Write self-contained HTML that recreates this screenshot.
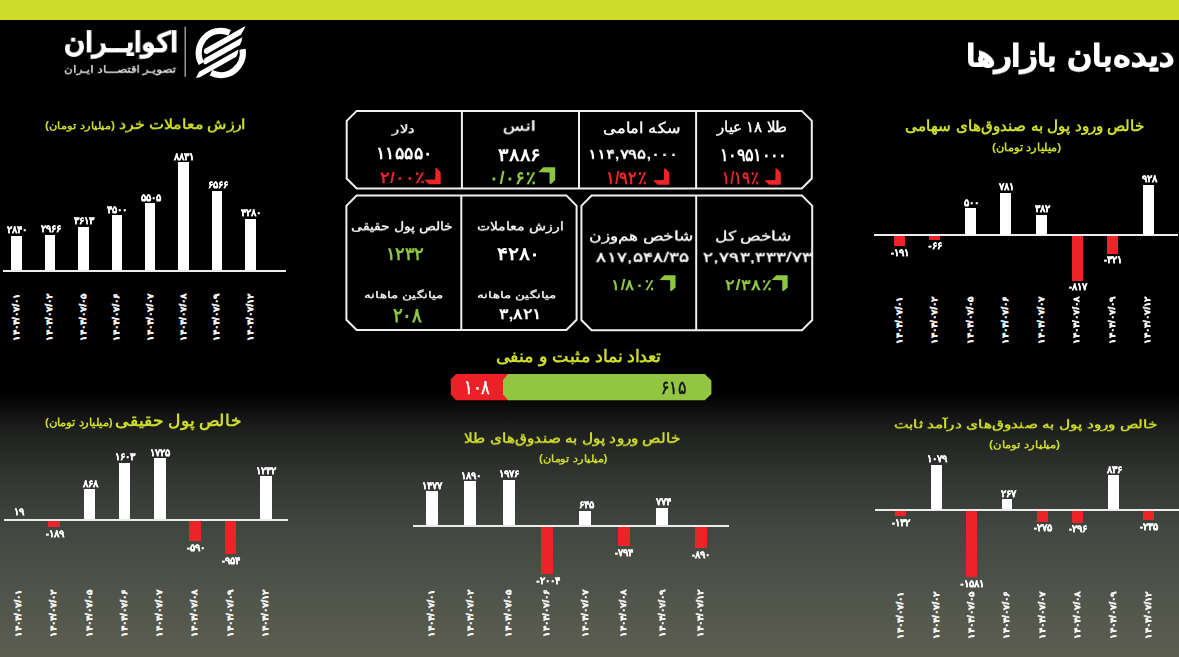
<!DOCTYPE html><html><head><meta charset="utf-8"><style>
html,body{margin:0;padding:0}
body{width:1179px;height:657px;overflow:hidden;position:relative;font-family:'Liberation Sans',sans-serif;background:linear-gradient(to bottom,#000 0,#000 392px,#111 413px,#1e201e 431px,#2a2c2a 457px,#333633 480px,#414540 524px,#4e5148 579px,#5b5e4f 657px)}
.a{position:absolute}
.t{position:absolute;white-space:nowrap;line-height:1;transform-origin:0 0;will-change:transform}
.v{position:absolute;width:40px;text-align:center;white-space:nowrap;line-height:1;font-size:10px;font-weight:bold;color:#fff;direction:ltr;-webkit-text-stroke:0.3px #fff;will-change:transform}
.d{position:absolute;width:70px;height:10px;text-align:center;white-space:nowrap;line-height:10px;font-size:10px;font-weight:bold;color:#f4f4f4;direction:ltr;transform-origin:35px 5px;-webkit-text-stroke:0.55px #f4f4f4}
svg{position:absolute;left:0;top:0;overflow:visible}
</style></head><body>
<div class="a" style="left:0;top:0;width:1179px;height:19.6px;background:#cddc2b"></div>
<div class="a" style="left:3px;top:269.5px;width:283px;height:2px;background:#ececec"></div>
<div class="a" style="left:11.3px;top:236px;width:10.6px;height:33.8px;background:#ffffff"></div>
<div class="v" style="left:-2.8px;top:225.4px">۲۸۴۰</div>
<div class="a" style="left:44.7px;top:234.7px;width:10.6px;height:35.1px;background:#ffffff"></div>
<div class="v" style="left:30.6px;top:224.1px">۲۹۶۶</div>
<div class="a" style="left:78.1px;top:226.6px;width:10.6px;height:43.2px;background:#ffffff"></div>
<div class="v" style="left:64px;top:216px">۳۶۱۳</div>
<div class="a" style="left:111.5px;top:215.3px;width:10.6px;height:54.5px;background:#ffffff"></div>
<div class="v" style="left:97.4px;top:204.7px">۴۵۰۰</div>
<div class="a" style="left:144.9px;top:203.3px;width:10.6px;height:66.5px;background:#ffffff"></div>
<div class="v" style="left:130.8px;top:192.7px">۵۵۰۵</div>
<div class="a" style="left:178.3px;top:162.4px;width:10.6px;height:107.4px;background:#ffffff"></div>
<div class="v" style="left:164.2px;top:151.8px">۸۸۳۱</div>
<div class="a" style="left:211.7px;top:190.5px;width:10.6px;height:79.3px;background:#ffffff"></div>
<div class="v" style="left:197.6px;top:179.9px">۶۵۶۶</div>
<div class="a" style="left:245.1px;top:218.8px;width:10.6px;height:51px;background:#ffffff"></div>
<div class="v" style="left:231px;top:208.2px">۴۲۸۰</div>
<div class="d" style="left:-18.1px;top:312.25px;transform:rotate(-90deg) scale(1.04,0.83)">۱۴۰۴/۰۷/۰۱</div>
<div class="d" style="left:15.3px;top:312.25px;transform:rotate(-90deg) scale(1.04,0.83)">۱۴۰۴/۰۷/۰۲</div>
<div class="d" style="left:48.7px;top:312.25px;transform:rotate(-90deg) scale(1.04,0.83)">۱۴۰۴/۰۷/۰۵</div>
<div class="d" style="left:82.1px;top:312.25px;transform:rotate(-90deg) scale(1.04,0.83)">۱۴۰۴/۰۷/۰۶</div>
<div class="d" style="left:115.5px;top:312.25px;transform:rotate(-90deg) scale(1.04,0.83)">۱۴۰۴/۰۷/۰۷</div>
<div class="d" style="left:148.9px;top:312.25px;transform:rotate(-90deg) scale(1.04,0.83)">۱۴۰۴/۰۷/۰۸</div>
<div class="d" style="left:182.3px;top:312.25px;transform:rotate(-90deg) scale(1.04,0.83)">۱۴۰۴/۰۷/۰۹</div>
<div class="d" style="left:215.7px;top:312.25px;transform:rotate(-90deg) scale(1.04,0.83)">۱۴۰۴/۰۷/۱۲</div>
<div class="a" style="left:874px;top:234.3px;width:304px;height:2px;background:#ececec"></div>
<div class="a" style="left:893.7px;top:236px;width:11px;height:10.1px;background:#ec2327"></div>
<div class="v" style="left:879.8px;top:247.7px">-۱۹۱</div>
<div class="a" style="left:929.26px;top:236px;width:11px;height:3.8px;background:#ec2327"></div>
<div class="v" style="left:915.36px;top:241.4px">-۶۶</div>
<div class="a" style="left:964.82px;top:208.1px;width:11px;height:26.5px;background:#ffffff"></div>
<div class="v" style="left:950.92px;top:197.5px">۵۰۰</div>
<div class="a" style="left:1000.38px;top:192.7px;width:11px;height:41.9px;background:#ffffff"></div>
<div class="v" style="left:986.48px;top:182.1px">۷۸۱</div>
<div class="a" style="left:1035.94px;top:214.8px;width:11px;height:19.8px;background:#ffffff"></div>
<div class="v" style="left:1022.04px;top:204.2px">۳۸۲</div>
<div class="a" style="left:1071.5px;top:236px;width:11px;height:44.7px;background:#ec2327"></div>
<div class="v" style="left:1057.6px;top:282.3px">-۸۱۷</div>
<div class="a" style="left:1107.06px;top:236px;width:11px;height:17.6px;background:#ec2327"></div>
<div class="v" style="left:1093.16px;top:255.2px">-۳۲۱</div>
<div class="a" style="left:1142.62px;top:184.8px;width:11px;height:49.8px;background:#ffffff"></div>
<div class="v" style="left:1128.72px;top:174.2px">۹۲۸</div>
<div class="d" style="left:864.5px;top:315.4px;transform:rotate(-90deg) scale(1.04,0.83)">۱۴۰۴/۰۷/۰۱</div>
<div class="d" style="left:900.06px;top:315.4px;transform:rotate(-90deg) scale(1.04,0.83)">۱۴۰۴/۰۷/۰۲</div>
<div class="d" style="left:935.62px;top:315.4px;transform:rotate(-90deg) scale(1.04,0.83)">۱۴۰۴/۰۷/۰۵</div>
<div class="d" style="left:971.18px;top:315.4px;transform:rotate(-90deg) scale(1.04,0.83)">۱۴۰۴/۰۷/۰۶</div>
<div class="d" style="left:1006.74px;top:315.4px;transform:rotate(-90deg) scale(1.04,0.83)">۱۴۰۴/۰۷/۰۷</div>
<div class="d" style="left:1042.3px;top:315.4px;transform:rotate(-90deg) scale(1.04,0.83)">۱۴۰۴/۰۷/۰۸</div>
<div class="d" style="left:1077.86px;top:315.4px;transform:rotate(-90deg) scale(1.04,0.83)">۱۴۰۴/۰۷/۰۹</div>
<div class="d" style="left:1113.42px;top:315.4px;transform:rotate(-90deg) scale(1.04,0.83)">۱۴۰۴/۰۷/۱۲</div>
<div class="a" style="left:4.4px;top:518.8px;width:283.4px;height:2.2px;background:#ececec"></div>
<div class="v" style="left:-0.75px;top:507px">۱۹</div>
<div class="a" style="left:48.2px;top:520.7px;width:11.5px;height:6.4px;background:#ec2327"></div>
<div class="v" style="left:34.55px;top:528.7px">-۱۸۹</div>
<div class="a" style="left:83.5px;top:489.4px;width:11.5px;height:29.7px;background:#ffffff"></div>
<div class="v" style="left:69.85px;top:478.8px">۸۶۸</div>
<div class="a" style="left:118.8px;top:462.8px;width:11.5px;height:56.3px;background:#ffffff"></div>
<div class="v" style="left:105.15px;top:452.2px">۱۶۰۳</div>
<div class="a" style="left:154.1px;top:458.4px;width:11.5px;height:60.7px;background:#ffffff"></div>
<div class="v" style="left:140.45px;top:447.8px">۱۷۲۵</div>
<div class="a" style="left:189.4px;top:520.7px;width:11.5px;height:20.6px;background:#ec2327"></div>
<div class="v" style="left:175.75px;top:542.9px">-۵۹۰</div>
<div class="a" style="left:224.7px;top:520.7px;width:11.5px;height:33.5px;background:#ec2327"></div>
<div class="v" style="left:211.05px;top:555.8px">-۹۵۴</div>
<div class="a" style="left:260px;top:476.2px;width:11.5px;height:42.9px;background:#ffffff"></div>
<div class="v" style="left:246.35px;top:465.6px">۱۲۳۲</div>
<div class="d" style="left:-16.05px;top:608.15px;transform:rotate(-90deg) scale(1.04,0.83)">۱۴۰۴/۰۷/۰۱</div>
<div class="d" style="left:19.25px;top:608.15px;transform:rotate(-90deg) scale(1.04,0.83)">۱۴۰۴/۰۷/۰۲</div>
<div class="d" style="left:54.55px;top:608.15px;transform:rotate(-90deg) scale(1.04,0.83)">۱۴۰۴/۰۷/۰۵</div>
<div class="d" style="left:89.85px;top:608.15px;transform:rotate(-90deg) scale(1.04,0.83)">۱۴۰۴/۰۷/۰۶</div>
<div class="d" style="left:125.15px;top:608.15px;transform:rotate(-90deg) scale(1.04,0.83)">۱۴۰۴/۰۷/۰۷</div>
<div class="d" style="left:160.45px;top:608.15px;transform:rotate(-90deg) scale(1.04,0.83)">۱۴۰۴/۰۷/۰۸</div>
<div class="d" style="left:195.75px;top:608.15px;transform:rotate(-90deg) scale(1.04,0.83)">۱۴۰۴/۰۷/۰۹</div>
<div class="d" style="left:231.05px;top:608.15px;transform:rotate(-90deg) scale(1.04,0.83)">۱۴۰۴/۰۷/۱۲</div>
<div class="a" style="left:412.8px;top:524.9px;width:316.6px;height:2px;background:#ececec"></div>
<div class="a" style="left:425.7px;top:491.2px;width:12.2px;height:34px;background:#ffffff"></div>
<div class="v" style="left:412.4px;top:480.6px">۱۴۷۷</div>
<div class="a" style="left:464.1px;top:481.3px;width:12.2px;height:43.9px;background:#ffffff"></div>
<div class="v" style="left:450.8px;top:470.7px">۱۸۹۰</div>
<div class="a" style="left:502.5px;top:479.5px;width:12.2px;height:45.7px;background:#ffffff"></div>
<div class="v" style="left:489.2px;top:468.9px">۱۹۷۶</div>
<div class="a" style="left:540.9px;top:526.6px;width:12.2px;height:47.4px;background:#ec2327"></div>
<div class="v" style="left:527.6px;top:575.6px">-۲۰۰۴</div>
<div class="a" style="left:579.3px;top:510.5px;width:12.2px;height:14.7px;background:#ffffff"></div>
<div class="v" style="left:566px;top:499.9px">۶۴۵</div>
<div class="a" style="left:617.7px;top:526.6px;width:12.2px;height:19.4px;background:#ec2327"></div>
<div class="v" style="left:604.4px;top:547.6px">-۷۹۴</div>
<div class="a" style="left:656.1px;top:507.9px;width:12.2px;height:17.3px;background:#ffffff"></div>
<div class="v" style="left:642.8px;top:497.3px">۷۷۴</div>
<div class="a" style="left:694.5px;top:526.6px;width:12.2px;height:21.4px;background:#ec2327"></div>
<div class="v" style="left:681.2px;top:549.6px">-۸۹۰</div>
<div class="d" style="left:397.1px;top:607.75px;transform:rotate(-90deg) scale(1.04,0.83)">۱۴۰۴/۰۷/۰۱</div>
<div class="d" style="left:435.5px;top:607.75px;transform:rotate(-90deg) scale(1.04,0.83)">۱۴۰۴/۰۷/۰۲</div>
<div class="d" style="left:473.9px;top:607.75px;transform:rotate(-90deg) scale(1.04,0.83)">۱۴۰۴/۰۷/۰۵</div>
<div class="d" style="left:512.3px;top:607.75px;transform:rotate(-90deg) scale(1.04,0.83)">۱۴۰۴/۰۷/۰۶</div>
<div class="d" style="left:550.7px;top:607.75px;transform:rotate(-90deg) scale(1.04,0.83)">۱۴۰۴/۰۷/۰۷</div>
<div class="d" style="left:589.1px;top:607.75px;transform:rotate(-90deg) scale(1.04,0.83)">۱۴۰۴/۰۷/۰۸</div>
<div class="d" style="left:627.5px;top:607.75px;transform:rotate(-90deg) scale(1.04,0.83)">۱۴۰۴/۰۷/۰۹</div>
<div class="d" style="left:665.9px;top:607.75px;transform:rotate(-90deg) scale(1.04,0.83)">۱۴۰۴/۰۷/۱۲</div>
<div class="a" style="left:875px;top:509.2px;width:303.5px;height:2.2px;background:#ececec"></div>
<div class="a" style="left:895.4px;top:511.1px;width:10.8px;height:5.2px;background:#ec2327"></div>
<div class="v" style="left:881.4px;top:517.9px">-۱۳۲</div>
<div class="a" style="left:930.8px;top:465px;width:10.8px;height:44.5px;background:#ffffff"></div>
<div class="v" style="left:916.8px;top:454.4px">۱۰۷۹</div>
<div class="a" style="left:966.2px;top:511.1px;width:10.8px;height:66.3px;background:#ec2327"></div>
<div class="v" style="left:952.2px;top:579px">-۱۵۸۱</div>
<div class="a" style="left:1001.6px;top:499.4px;width:10.8px;height:10.1px;background:#ffffff"></div>
<div class="v" style="left:987.6px;top:488.8px">۲۶۷</div>
<div class="a" style="left:1037px;top:511.1px;width:10.8px;height:10.7px;background:#ec2327"></div>
<div class="v" style="left:1023px;top:523.4px">-۲۷۵</div>
<div class="a" style="left:1072.4px;top:511.1px;width:10.8px;height:11.5px;background:#ec2327"></div>
<div class="v" style="left:1058.4px;top:524.2px">-۲۹۶</div>
<div class="a" style="left:1107.8px;top:475.4px;width:10.8px;height:34.1px;background:#ffffff"></div>
<div class="v" style="left:1093.8px;top:464.8px">۸۳۶</div>
<div class="a" style="left:1143.2px;top:511.1px;width:10.8px;height:9.3px;background:#ec2327"></div>
<div class="v" style="left:1129.2px;top:522px">-۲۳۵</div>
<div class="d" style="left:866.1px;top:610px;transform:rotate(-90deg) scale(1.04,0.83)">۱۴۰۴/۰۷/۰۱</div>
<div class="d" style="left:901.5px;top:610px;transform:rotate(-90deg) scale(1.04,0.83)">۱۴۰۴/۰۷/۰۲</div>
<div class="d" style="left:936.9px;top:610px;transform:rotate(-90deg) scale(1.04,0.83)">۱۴۰۴/۰۷/۰۵</div>
<div class="d" style="left:972.3px;top:610px;transform:rotate(-90deg) scale(1.04,0.83)">۱۴۰۴/۰۷/۰۶</div>
<div class="d" style="left:1007.7px;top:610px;transform:rotate(-90deg) scale(1.04,0.83)">۱۴۰۴/۰۷/۰۷</div>
<div class="d" style="left:1043.1px;top:610px;transform:rotate(-90deg) scale(1.04,0.83)">۱۴۰۴/۰۷/۰۸</div>
<div class="d" style="left:1078.5px;top:610px;transform:rotate(-90deg) scale(1.04,0.83)">۱۴۰۴/۰۷/۰۹</div>
<div class="d" style="left:1113.9px;top:610px;transform:rotate(-90deg) scale(1.04,0.83)">۱۴۰۴/۰۷/۱۲</div>
<svg width="1179" height="657" viewBox="0 0 1179 657">
<polygon points="356.7,110.9 801.8,110.9 811.8,120.9 811.8,178.5 801.8,188.5 356.7,188.5 346.7,178.5 346.7,120.9" fill="none" stroke="#f0f0f0" stroke-width="2"/>
<line x1="461.9" y1="110.9" x2="461.9" y2="188.5" stroke="#f0f0f0" stroke-width="2"/>
<line x1="579" y1="110.9" x2="579" y2="188.5" stroke="#f0f0f0" stroke-width="2"/>
<line x1="696.1" y1="110.9" x2="696.1" y2="188.5" stroke="#f0f0f0" stroke-width="2"/>
<polygon points="356.6,195.6 566.4,195.6 576.6,205.8 576.6,319.8 566.4,330 356.6,330 346.4,319.8 346.4,205.8" fill="none" stroke="#f0f0f0" stroke-width="2"/>
<line x1="461.3" y1="195.6" x2="461.3" y2="330" stroke="#f0f0f0" stroke-width="2"/>
<polygon points="591.6,195.6 802,195.6 812.2,205.8 812.2,320 802,330.2 591.6,330.2 581.4,320 581.4,205.8" fill="none" stroke="#f0f0f0" stroke-width="2"/>
<line x1="696.2" y1="195.6" x2="696.2" y2="330.2" stroke="#f0f0f0" stroke-width="2"/>
<polygon points="429,184.2 440.7,184.2 440.7,172.2 437.1,168.2 435.4,168 435.2,179.6 424.2,179.8" fill="#ec2327"/>
<polygon points="543.2,167.2 555.2,167.2 555.2,180.1 551,183.9 549.6,183.7 549.5,172.5 538.4,172.3" fill="#8dc63f"/>
<polygon points="657.7,184.7 669.4,184.7 669.4,172.7 665.8,168.7 664.1,168.5 663.9,180.1 652.9,180.3" fill="#ec2327"/>
<polygon points="769.1,184.7 780.8,184.7 780.8,172.7 777.2,168.7 775.5,168.5 775.3,180.1 764.3,180.3" fill="#ec2327"/>
<polygon points="664.16,275.2 675.56,275.2 675.56,287.45 671.57,291.06 670.24,290.88 670.14,280.24 659.6,280.05" fill="#8dc63f"/>
<polygon points="776.26,275.2 787.66,275.2 787.66,287.45 783.67,291.06 782.34,290.88 782.25,280.24 771.7,280.05" fill="#8dc63f"/>
<polygon points="456,374.1 510,374.1 510,400.2 456,400.2 450.8,394.5 450.8,379.3" fill="#ec2027"/>
<polygon points="508.2,374.1 704.8,374.1 711.4,380.4 711.4,394 704.8,400.3 508.2,400.3 503,394.5 503,380" fill="#91c542"/>
<line x1="185.2" y1="26.8" x2="185.2" y2="76.8" stroke="#bdbdbd" stroke-width="1.2"/>
<g transform="translate(194,25) scale(0.08371)" fill="#fff"><path d="M426.1,92.3 A264,264 0 0 0 88,460" fill="none" stroke="#fff" stroke-width="74"/><path d="M580.3,290 A264,264 0 0 1 204.3,571.3" fill="none" stroke="#fff" stroke-width="74"/><polygon points="118,300 135,282 615,11 600,48 560,117 150,349 122,335"/><polygon points="112,425 130,398 578,146 568,195 548,238 135,471 115,460"/><polygon points="24,632 60,559 532,292 522,340 505,378 70,623"/></g>
</svg>
<div class="t" style="left:966.06px;top:40.67px;font-size:32px;font-weight:bold;color:#ffffff;direction:rtl;transform:scale(1.071,0.929);-webkit-text-stroke:1.1px #ffffff">دیده‌بان بازارها</div>
<div class="t" style="left:64.24px;top:29.3px;font-size:30px;font-weight:bold;color:#ffffff;direction:rtl;transform:scale(0.956,0.900);-webkit-text-stroke:1px #ffffff">اکوایــران</div>
<div class="t" style="left:64.1px;top:64.21px;font-size:13px;font-weight:normal;color:#e6e6e6;direction:rtl;transform:scale(0.905,0.786);-webkit-text-stroke:0.35px #e6e6e6">تصویـر اقتصـــاد ایـران</div>
<div class="t" style="left:118.8px;top:116.79px;font-size:15px;font-weight:bold;color:#cddc2b;direction:rtl;transform:scale(1.061,0.913)">ارزش معاملات خرد</div>
<div class="t" style="left:44.6px;top:120.5px;font-size:10px;font-weight:bold;color:#cddc2b;direction:rtl;transform:scale(1.197,1.045)">(میلیارد تومان)</div>
<div class="t" style="left:904.99px;top:118px;font-size:15px;font-weight:bold;color:#cddc2b;direction:rtl;transform:scale(1.011,1.000)">خالص ورود پول به صندوق‌های سهامی</div>
<div class="t" style="left:992px;top:142px;font-size:10px;font-weight:bold;color:#cddc2b;direction:rtl;transform:scale(1.183,1.145)">(میلیارد تومان)</div>
<div class="t" style="left:114.87px;top:412.34px;font-size:15px;font-weight:bold;color:#cddc2b;direction:rtl;transform:scale(1.130,1.062)">خالص پول حقیقی</div>
<div class="t" style="left:45px;top:416.5px;font-size:10px;font-weight:bold;color:#cddc2b;direction:rtl;transform:scale(1.155,1.091)">(میلیارد تومان)</div>
<div class="t" style="left:464px;top:430.7px;font-size:15px;font-weight:bold;color:#cddc2b;direction:rtl;transform:scale(1.019,0.900)">خالص ورود پول به صندوق‌های طلا</div>
<div class="t" style="left:539px;top:453.6px;font-size:10px;font-weight:bold;color:#cddc2b;direction:rtl;transform:scale(1.172,1.036)">(میلیارد تومان)</div>
<div class="t" style="left:893.97px;top:418.48px;font-size:15px;font-weight:bold;color:#cddc2b;direction:rtl;transform:scale(1.025,0.783)">خالص ورود پول به صندوق‌های درآمد ثابت</div>
<div class="t" style="left:989px;top:440px;font-size:10px;font-weight:bold;color:#cddc2b;direction:rtl;transform:scale(1.217,1.045)">(میلیارد تومان)</div>
<div class="t" style="left:495.91px;top:348px;font-size:16px;font-weight:bold;color:#cddc2b;direction:rtl;transform:scale(1.085,1.053)">تعداد نماد مثبت و منفی</div>
<div class="t" style="left:392.07px;top:123.49px;font-size:14px;font-weight:normal;color:#ffffff;direction:rtl;transform:scale(1.073,0.813);-webkit-text-stroke:0.35px #ffffff">دلار</div>
<div class="t" style="left:502.65px;top:119.03px;font-size:14px;font-weight:normal;color:#ffffff;direction:rtl;transform:scale(1.254,0.967);-webkit-text-stroke:0.35px #ffffff">انس</div>
<div class="t" style="left:602.86px;top:120.14px;font-size:14px;font-weight:normal;color:#ffffff;direction:rtl;transform:scale(1.139,1.062);-webkit-text-stroke:0.35px #ffffff">سکه امامی</div>
<div class="t" style="left:717.36px;top:119.04px;font-size:14px;font-weight:normal;color:#ffffff;direction:rtl;transform:scale(1.060,1.060);-webkit-text-stroke:0.35px #ffffff">طلا ۱۸ عیار</div>
<div class="t" style="left:376.43px;top:143.52px;font-size:15px;font-weight:bold;color:#ffffff;direction:ltr;transform:scale(1.186,1.160)">۱۱۵۵۵۰</div>
<div class="t" style="left:498.4px;top:145.21px;font-size:15px;font-weight:bold;color:#ffffff;direction:ltr;transform:scale(1.348,1.230)">۳۸۸۶</div>
<div class="t" style="left:587.76px;top:147.1px;font-size:15px;font-weight:bold;color:#ffffff;direction:ltr;transform:scale(1.119,0.900)">۱۱۴,۷۹۵,۰۰۰</div>
<div class="t" style="left:719.52px;top:146.29px;font-size:15px;font-weight:bold;color:#ffffff;direction:ltr;transform:scale(1.042,1.170)">۱۰۹۵۱۰۰۰</div>
<div class="t" style="left:379.6px;top:169.69px;font-size:14px;font-weight:bold;color:#ec2327;direction:ltr;transform:scale(1.240,1.109)">۲/۰۰٪</div>
<div class="t" style="left:488.92px;top:168.09px;font-size:14px;font-weight:bold;color:#8dc63f;direction:ltr;transform:scale(1.328,1.309)">۰/۰۶٪</div>
<div class="t" style="left:605.74px;top:168.75px;font-size:14px;font-weight:bold;color:#ec2327;direction:ltr;transform:scale(1.130,1.255)">۱/۹۲٪</div>
<div class="t" style="left:721.64px;top:168.75px;font-size:14px;font-weight:bold;color:#ec2327;direction:ltr;transform:scale(1.030,1.255)">۱/۱۹٪</div>
<div class="t" style="left:350.8px;top:219.54px;font-size:14px;font-weight:normal;color:#ffffff;direction:rtl;transform:scale(1.002,0.860);-webkit-text-stroke:0.35px #ffffff">خالص پول حقیقی</div>
<div class="t" style="left:385.94px;top:245.16px;font-size:15px;font-weight:bold;color:#8dc63f;direction:ltr;transform:scale(1.180,1.180)">۱۲۳۲</div>
<div class="t" style="left:363.76px;top:289.54px;font-size:13px;font-weight:normal;color:#ffffff;direction:rtl;transform:scale(1.037,0.738);-webkit-text-stroke:0.35px #ffffff">میانگین ماهانه</div>
<div class="t" style="left:393px;top:304.9px;font-size:15px;font-weight:bold;color:#8dc63f;direction:ltr;transform:scale(1.183,1.300)">۲۰۸</div>
<div class="t" style="left:477px;top:219.54px;font-size:14px;font-weight:normal;color:#ffffff;direction:rtl;transform:scale(0.999,0.860);-webkit-text-stroke:0.35px #ffffff">ارزش معاملات</div>
<div class="t" style="left:496.8px;top:245.16px;font-size:15px;font-weight:bold;color:#ffffff;direction:ltr;transform:scale(1.345,1.180)">۴۲۸۰</div>
<div class="t" style="left:476.96px;top:289.54px;font-size:13px;font-weight:normal;color:#ffffff;direction:rtl;transform:scale(1.037,0.738);-webkit-text-stroke:0.35px #ffffff">میانگین ماهانه</div>
<div class="t" style="left:499.2px;top:305.8px;font-size:15px;font-weight:bold;color:#ffffff;direction:ltr;transform:scale(1.179,1.000)">۳,۸۲۱</div>
<div class="t" style="left:588.86px;top:228.91px;font-size:15px;font-weight:normal;color:#ffffff;direction:rtl;transform:scale(1.140,0.887);-webkit-text-stroke:0.35px #ffffff">شاخص هم‌وزن</div>
<div class="t" style="left:596px;top:250.38px;font-size:15px;font-weight:normal;color:#ffffff;direction:ltr;transform:scale(1.292,0.908);-webkit-text-stroke:0.35px #ffffff">۸۱۷,۵۴۸/۳۵</div>
<div class="t" style="left:611.17px;top:276.91px;font-size:14px;font-weight:bold;color:#8dc63f;direction:ltr;transform:scale(1.215,1.091)">۱/۸۰٪</div>
<div class="t" style="left:715.06px;top:228.91px;font-size:15px;font-weight:normal;color:#ffffff;direction:rtl;transform:scale(1.143,0.887);-webkit-text-stroke:0.35px #ffffff">شاخص کل</div>
<div class="t" style="left:703.3px;top:250.38px;font-size:15px;font-weight:normal;color:#ffffff;direction:ltr;transform:scale(1.291,0.908);-webkit-text-stroke:0.35px #ffffff">۲,۷۹۳,۳۳۳/۷۳</div>
<div class="t" style="left:724.5px;top:276.91px;font-size:14px;font-weight:bold;color:#8dc63f;direction:ltr;transform:scale(1.314,1.091)">۲/۳۸٪</div>
<div class="t" style="left:463.97px;top:376.5px;font-size:15px;font-weight:normal;color:#ffffff;direction:ltr;transform:scale(1.064,1.300);-webkit-text-stroke:0.35px #ffffff">۱۰۸</div>
<div class="t" style="left:661.44px;top:376.86px;font-size:15px;font-weight:normal;color:#111111;direction:ltr;transform:scale(1.057,1.280);-webkit-text-stroke:0.35px #111111">۶۱۵</div>
</body></html>
